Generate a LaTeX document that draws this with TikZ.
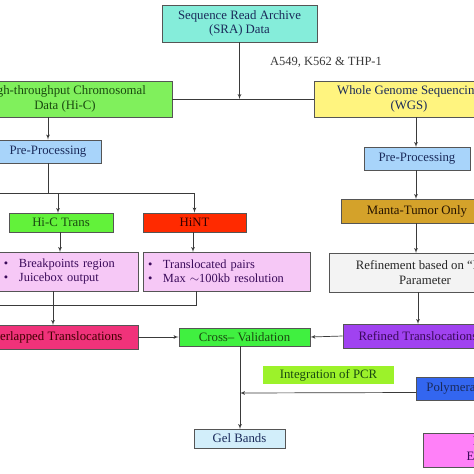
\documentclass[tikz,border=0pt]{standalone}
\usepackage{fontspec}
\setmainfont{Liberation Serif}
\usetikzlibrary{shapes, arrows}
\definecolor{linegray}{HTML}{3A3A3A}
\definecolor{boxgray}{HTML}{555555}
\definecolor{sracol}{HTML}{85EDDA}
\definecolor{hiccol}{HTML}{80F05C}
\definecolor{wgscol}{HTML}{FFF47F}
\definecolor{precol}{HTML}{A8D4FA}
\definecolor{transcol}{HTML}{62F23A}
\definecolor{hintcol}{HTML}{FF2A00}
\definecolor{lilac}{HTML}{F6C8F6}
\definecolor{overcol}{HTML}{F0327A}
\definecolor{crosscol}{HTML}{40F040}
\definecolor{refdcol}{HTML}{A042F0}
\definecolor{refncol}{HTML}{F3F3F3}
\definecolor{mantacol}{HTML}{D4A22A}
\definecolor{integcol}{HTML}{9CF22A}
\definecolor{polycol}{HTML}{3366F0}
\definecolor{gelcol}{HTML}{D2EEFA}
\definecolor{elecol}{HTML}{FF80F8}
\definecolor{navy}{HTML}{1A2A5A}
\definecolor{dgreen}{HTML}{1A4A10}
\definecolor{dpurple}{HTML}{3A0A5A}
\tikzstyle{line} = [draw=linegray, line width=0.7pt, -latex']
\tikzstyle{plain} = [draw=linegray, line width=0.7pt]
\tikzstyle{block} = [draw=boxgray, rectangle, line width=0.8pt, inner sep=0pt, align=center, font=\fontsize{12.8}{14.8}\selectfont]
\tikzstyle{bullets} = [block, align=left, inner xsep=5pt, font=\fontsize{12.4}{14}\selectfont, text=dpurple]
\newcommand{\bul}{\makebox[15pt][l]{\textbullet}}

\begin{document}
\begin{tikzpicture}[x=1pt, y=-1pt]
		\useasboundingbox (0,0) rectangle (474,474);
		\clip (0,0) rectangle (474,474);
		\fill[white] (0,0) rectangle (474,474);
		\node[block, fill=sracol, text=navy, minimum width=155pt, minimum height=37pt] (sra) at (239.5,23.5) {Sequence Read Archive\\(SRA) Data};
		\node[font=\fontsize{12.5}{14}\selectfont, text=linegray] (cells) at (326,62) {A549, K562 \& THP-1};
		\node[block, fill=hiccol, text=dgreen, minimum width=214pt, minimum height=36pt] (hic) at (65,99) {High-throughput Chromosomal\\Data (Hi-C)};
		\node[block, fill=wgscol, text=navy, minimum width=190pt, minimum height=36pt] (wgs) at (409,99) {Whole Genome Sequencing\\(WGS)};
		\node[block, fill=precol, text=navy, minimum width=106pt, minimum height=23pt] (pre1) at (48,151.5) {Pre-Processing};
		\node[block, fill=precol, text=navy, minimum width=106pt, minimum height=23pt] (pre2) at (417,158.5) {Pre-Processing};
		\node[block, fill=transcol, text=dgreen, minimum width=104pt, minimum height=19pt] (trans) at (61,222.5) {Hi-C Trans};
		\node[block, fill=hintcol, text=black!80!red, minimum width=103pt, minimum height=19pt] (hint) at (194.5,222.5) {HiNT};
		\node[block, fill=mantacol, text=black!85!orange, minimum width=152pt, minimum height=24pt] (manta) at (417,211) {Manta-Tumor Only};
		\node[bullets, fill=lilac, text width=129pt, minimum height=39pt] (pk1) at (68.5,271.5) {\bul Breakpoints region\\\bul Juicebox output};
		\node[bullets, fill=lilac, text width=157pt, minimum height=39pt] (pk2) at (226.5,271.5) {\bul Translocated pairs\\\bul Max $\sim$100kb resolution};
		\node[block, fill=refncol, text=black!85, minimum width=192pt, minimum height=39pt] (refn) at (425,272.5) {Refinement based on “PR”\\Parameter};
		\node[block, fill=overcol, text=black!75!red, minimum width=169pt, minimum height=24pt] (over) at (53.5,337) {Overlapped Translocations};
		\node[block, fill=crosscol, text=dgreen, minimum width=131pt, minimum height=18pt] (cross) at (244.5,337) {Cross– Validation};
		\node[block, fill=refdcol, text=dpurple, minimum width=150pt, minimum height=24pt] (refd) at (418,336) {Refined Translocations};
		\node[block, draw=none, fill=integcol, text=dgreen, minimum width=131pt, minimum height=18pt] (integ) at (328.5,375) {Integration of PCR};
		\node[block, fill=polycol, text=navy, anchor=west, inner xsep=10pt, minimum height=23pt] (poly) at (416,388.5) {Polymerase Chain Reaction};
		\node[block, fill=gelcol, text=navy, minimum width=91pt, minimum height=19pt] (gel) at (239.5,438.5) {Gel Bands};
		\node[block, fill=elecol, text=dpurple, anchor=west, minimum width=166pt, minimum height=34pt] (elec) at (423,450) {PCR Product\\Electrophoresis};
		% top split
		\draw[plain] (hic.east) -- (wgs.west);
		\draw[line] (sra.south) -- (sra.south |- hic.east);
		% Hi-C side
		\coordinate (splitA) at (48,193);
		\coordinate (mergeA) at (196,305);
		\draw[line] (pre1.north |- hic.south) -- (pre1.north);
		\draw[plain] (pre1.south) -- (splitA);
		\draw[plain] (-10,193) -- (hint.north |- splitA);
		\draw[line] (58,193) -- (58,213);
		\draw[line] (hint.north |- splitA) -- (hint.north);
		\draw[line] (60,232) -- (60,252);
		\draw[line] (193,232) -- (193,252);
		\draw[plain] (mergeA |- pk2.south) -- (mergeA) -- (-10,305);
		\draw[line] (53,291) -- (53,325);
		\draw[line] (over.east) -- (cross.west);
		% WGS side
		\draw[line] (416,117) -- (416,147);
		\draw[line] (416,170) -- (416,199);
		\draw[line] (416,223) -- (416,253);
		\draw[line] (418,292) -- (418,324);
		\draw[line] (refd.west) -- (cross.east);
		% validation
		\coordinate (polyin) at ([yshift=-4pt]poly.west);
		\draw[line] (240,346) -- (240,429);
		\draw[line] (polyin) -- (240,393);
\end{tikzpicture}
\end{document}
